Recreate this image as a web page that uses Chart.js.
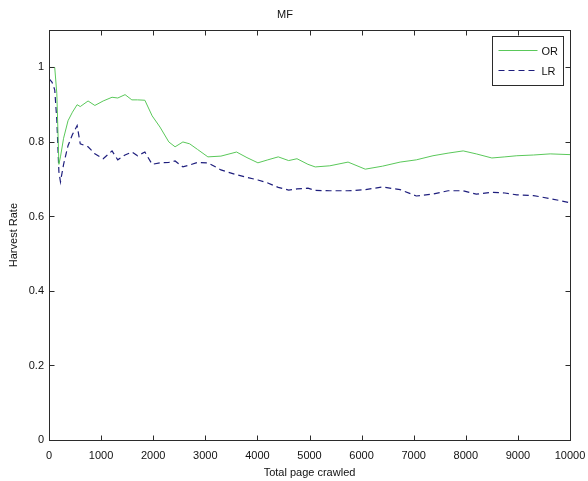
<!DOCTYPE html>
<html>
<head>
<meta charset="utf-8">
<script src="https://cdn.jsdelivr.net/npm/chart.js@4.4.0/dist/chart.umd.min.js"></script>
<style>
  body { margin: 0; background: #fff; }
  #wrap { width: 588px; height: 481px; }
</style>
</head>
<body>
<div id="wrap"><canvas id="mycanvas" width="588" height="481"></canvas></div>
<script>
var chartTitle = 'MF';
var xAxisTitle = 'Total page crawled';
var yAxisTitle = 'Harvest Rate';

var pagesCrawled = [0, 60, 110, 150, 190, 220, 280, 365, 450, 540, 600, 750, 880, 1040, 1210, 1320,
  1460, 1590, 1700, 1840, 1980, 2130, 2300, 2420, 2570, 2700, 2850, 3050, 3300, 3600, 3800, 4010,
  4200, 4400, 4600, 4760, 4970, 5110, 5390, 5740, 6070, 6400, 6740, 7050, 7370, 7660, 7950, 8200,
  8500, 8750, 8980, 9300, 9620, 10000];

var orRate = [1.0, 1.0, 1.0, 0.93, 0.74, 0.76, 0.81, 0.857, 0.88, 0.90, 0.895, 0.91, 0.898, 0.91, 0.92, 0.918,
  0.927, 0.913, 0.913, 0.912, 0.87, 0.84, 0.80, 0.787, 0.80, 0.795, 0.78, 0.76, 0.762, 0.773, 0.758, 0.744,
  0.752, 0.76, 0.75, 0.755, 0.74, 0.733, 0.736, 0.746, 0.727, 0.735, 0.746, 0.752, 0.763, 0.77, 0.776, 0.768,
  0.757, 0.76, 0.763, 0.765, 0.768, 0.766];

var lrRate = [0.97, 0.96, 0.94, 0.86, 0.72, 0.693, 0.74, 0.79, 0.82, 0.844, 0.795, 0.787, 0.768, 0.755, 0.776, 0.752,
  0.765, 0.773, 0.763, 0.773, 0.74, 0.744, 0.745, 0.749, 0.733, 0.738, 0.745, 0.744, 0.725, 0.712, 0.705, 0.698,
  0.69, 0.678, 0.671, 0.674, 0.676, 0.67, 0.669, 0.669, 0.672, 0.679, 0.672, 0.655, 0.66, 0.669, 0.669, 0.66,
  0.665, 0.663, 0.658, 0.656, 0.648, 0.637];

var xTicks = [0, 1000, 2000, 3000, 4000, 5000, 6000, 7000, 8000, 9000, 10000];
var yTicks = [0, 0.2, 0.4, 0.6, 0.8, 1];

function points(ys) {
  var out = [];
  for (var i = 0; i < pagesCrawled.length; i++) {
    out.push({x: pagesCrawled[i], y: ys[i]});
  }
  return out;
}

// axes box with inward ticks on all four sides (matlab look)
var boxPlugin = {
  id: 'box',
  afterDatasetsDraw: function(chart) {
    var ctx = chart.ctx, a = chart.chartArea;
    var xs = chart.scales.x, ys = chart.scales.y;
    var L = Math.round(a.left) + 0.5, R = Math.round(a.right) + 0.5;
    var T = Math.round(a.top) + 0.5, B = Math.round(a.bottom) + 0.5;
    ctx.save();
    ctx.strokeStyle = '#2b2b2b';
    ctx.lineWidth = 1;
    ctx.strokeRect(L, T, R - L, B - T);
    ctx.beginPath();
    xTicks.forEach(function(v) {
      var px = Math.round(xs.getPixelForValue(v)) + 0.5;
      ctx.moveTo(px, B); ctx.lineTo(px, B - 5);
      ctx.moveTo(px, T); ctx.lineTo(px, T + 5);
    });
    yTicks.forEach(function(v) {
      var py = Math.round(ys.getPixelForValue(v)) + 0.5;
      ctx.moveTo(L, py); ctx.lineTo(L + 5, py);
      ctx.moveTo(R, py); ctx.lineTo(R - 5, py);
    });
    ctx.stroke();
    ctx.restore();
  },
  afterDraw: function(chart) {
    // legend box in upper right corner
    var ctx = chart.ctx, a = chart.chartArea;
    var w = 71, h = 49;
    var x0 = Math.round(a.right) - 7 - w + 0.5, y0 = Math.round(a.top) + 6 + 0.5;
    ctx.save();
    ctx.fillStyle = '#fff';
    ctx.fillRect(x0, y0, w, h);
    ctx.strokeStyle = '#2b2b2b';
    ctx.lineWidth = 1;
    ctx.strokeRect(x0, y0, w, h);
    ctx.font = '11px "Liberation Sans", Arial, sans-serif';
    ctx.textBaseline = 'middle';
    chart.data.datasets.forEach(function(ds, i) {
      var ly = Math.round(y0 + 13 + i * 20) + 0.5;
      ctx.strokeStyle = ds.borderColor;
      ctx.setLineDash(ds.borderDash || []);
      ctx.beginPath();
      ctx.moveTo(x0 + 6, ly);
      ctx.lineTo(x0 + 45, ly);
      ctx.stroke();
      ctx.setLineDash([]);
      ctx.fillStyle = '#111';
      ctx.fillText(ds.label, x0 + 49, ly + 1);
    });
    ctx.restore();
  }
};

var ctx = document.getElementById('mycanvas');

var lineGraph = new Chart(ctx, {
  type: 'line',
  data: {
    datasets: [
      {
        label: 'OR',
        data: points(orRate),
        borderColor: 'rgb(90, 200, 90)',
        borderWidth: 1,
        pointRadius: 0,
        tension: 0
      },
      {
        label: 'LR',
        data: points(lrRate),
        borderColor: 'rgb(30, 30, 125)',
        borderWidth: 1.2,
        borderDash: [6, 4],
        pointRadius: 0,
        tension: 0
      }
    ]
  },
  options: {
    responsive: false,
    animation: false,
    layout: { padding: { left: 0, right: 18, top: 0, bottom: 0 } },
    plugins: {
      legend: { display: false },
      tooltip: { enabled: false },
      title: {
        display: true,
        text: chartTitle,
        color: '#111',
        font: { family: '"Liberation Sans", Arial, sans-serif', size: 11, weight: 'normal' },
        padding: { top: 8, bottom: 9 }
      }
    },
    scales: {
      x: {
        type: 'linear',
        min: 0,
        max: 10000,
        afterFit: function(scale) {
          scale.height = 41;
          scale.paddingLeft = 0;
          scale.paddingRight = 0;
        },
        afterBuildTicks: function(scale) {
          scale.ticks = xTicks.map(function(v) { return {value: v}; });
        },
        grid: { display: false, drawTicks: false, tickLength: 0 },
        border: { display: false },
        ticks: {
          padding: 9,
          maxRotation: 0,
          autoSkip: false,
          color: '#111',
          font: { family: '"Liberation Sans", Arial, sans-serif', size: 11 },
          callback: function(v) { return String(v); }
        },
        title: {
          display: true,
          text: xAxisTitle,
          color: '#111',
          font: { family: '"Liberation Sans", Arial, sans-serif', size: 11 },
          padding: { top: 0, bottom: 1 }
        }
      },
      y: {
        min: 0,
        max: 1.1,
        afterFit: function(scale) {
          scale.width = 49;
          scale.paddingTop = 0;
          scale.paddingBottom = 0;
        },
        afterBuildTicks: function(scale) {
          scale.ticks = yTicks.map(function(v) { return {value: v}; });
        },
        grid: { display: false, drawTicks: false, tickLength: 0 },
        border: { display: false },
        ticks: {
          padding: 5,
          color: '#111',
          font: { family: '"Liberation Sans", Arial, sans-serif', size: 11 },
          callback: function(v) { return String(Math.round(v * 10) / 10); }
        },
        title: {
          display: true,
          text: yAxisTitle,
          color: '#111',
          font: { family: '"Liberation Sans", Arial, sans-serif', size: 11 },
          padding: { top: 7, bottom: 0 }
        }
      }
    }
  },
  plugins: [boxPlugin]
});
</script>
</body>
</html>
